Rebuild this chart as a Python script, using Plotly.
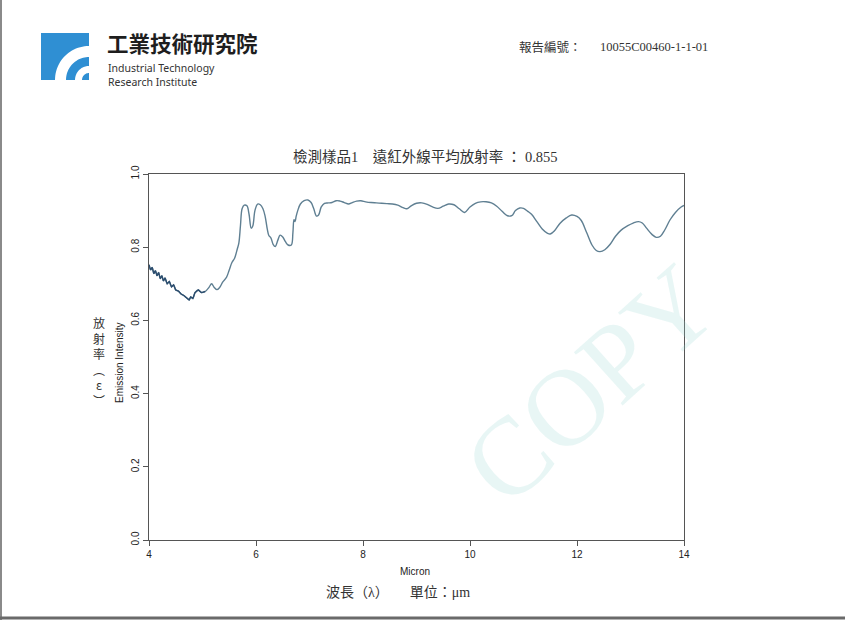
import math
import plotly.graph_objects as go

# ---- data ----
wavelength = [4.00, 4.03, 4.06, 4.09, 4.12, 4.15, 4.18, 4.21, 4.24, 4.27, 4.30, 4.34, 4.38, 4.42, 4.46,
              4.50, 4.55, 4.60, 4.65, 4.70, 4.75, 4.78, 4.82, 4.86, 4.92, 4.98, 5.05, 5.12, 5.17, 5.22,
              5.27, 5.32, 5.38, 5.45, 5.50, 5.55, 5.60, 5.65, 5.68, 5.71, 5.74, 5.78, 5.83, 5.87, 5.91,
              5.94, 5.98, 6.03, 6.08, 6.13, 6.17, 6.21, 6.24, 6.28, 6.32, 6.36, 6.41, 6.45, 6.50, 6.55,
              6.60, 6.66, 6.69, 6.71, 6.73, 6.75, 6.78, 6.83, 6.90, 6.97, 7.03, 7.08, 7.13, 7.17, 7.22,
              7.28, 7.35, 7.42, 7.50, 7.57, 7.65, 7.73, 7.80, 7.88, 7.96, 8.05, 8.15, 8.25, 8.35, 8.45,
              8.55, 8.65, 8.75, 8.82, 8.90, 9.00, 9.10, 9.20, 9.30, 9.40, 9.50, 9.60, 9.70, 9.80, 9.90,
              10.00, 10.10, 10.20, 10.30, 10.40, 10.50, 10.60, 10.70, 10.78, 10.85, 10.93, 11.00, 11.08,
              11.15, 11.25, 11.35, 11.45, 11.50, 11.58, 11.68, 11.80, 11.90, 12.00, 12.08, 12.18, 12.28,
              12.36, 12.43, 12.52, 12.62, 12.72, 12.82, 12.95, 13.05, 13.15, 13.22, 13.30, 13.40, 13.48,
              13.56, 13.64, 13.74, 13.84, 13.94, 14.00]
emission = [0.752, 0.738, 0.745, 0.728, 0.736, 0.722, 0.731, 0.714, 0.722, 0.708, 0.716, 0.700, 0.706, 0.692, 0.697,
            0.683, 0.680, 0.672, 0.668, 0.662, 0.656, 0.664, 0.660, 0.676, 0.683, 0.676, 0.679, 0.690, 0.700, 0.690,
            0.684, 0.690, 0.705, 0.718, 0.738, 0.758, 0.770, 0.795, 0.812, 0.860, 0.905, 0.915, 0.913, 0.890, 0.852,
            0.858, 0.900, 0.918, 0.916, 0.905, 0.885, 0.850, 0.832, 0.825, 0.808, 0.802, 0.820, 0.833, 0.828, 0.815,
            0.806, 0.806, 0.840, 0.875, 0.870, 0.884, 0.900, 0.918, 0.927, 0.929, 0.922, 0.905, 0.885, 0.888, 0.910,
            0.920, 0.921, 0.922, 0.927, 0.926, 0.922, 0.918, 0.922, 0.926, 0.927, 0.924, 0.922, 0.921, 0.920, 0.919,
            0.918, 0.915, 0.908, 0.905, 0.913, 0.920, 0.921, 0.917, 0.910, 0.906, 0.912, 0.918, 0.916, 0.905, 0.895,
            0.910, 0.920, 0.924, 0.924, 0.921, 0.912, 0.898, 0.886, 0.886, 0.900, 0.907, 0.906, 0.898,
            0.890, 0.870, 0.850, 0.838, 0.836, 0.845, 0.865, 0.880, 0.888, 0.884, 0.873, 0.840, 0.806,
            0.791, 0.788, 0.793, 0.808, 0.830, 0.846, 0.859, 0.866, 0.870, 0.866, 0.852, 0.835, 0.827,
            0.830, 0.847, 0.875, 0.895, 0.909, 0.914]
noisy_points = 27  # the dark, noisy start of the scan (4.0 - 5.05 micron)

x_ticks = [4, 6, 8, 10, 12, 14]
y_ticks = [0.0, 0.2, 0.4, 0.6, 0.8, 1.0]
y_tick_labels = ["0.0", "0.2", "0.4", "0.6", "0.8", "1.0"]

title_text = "檢測樣品1　遠紅外線平均放射率 ： 0.855"
report_label = "報告編號："
report_no = "10055C00460-1-1-01"

# ---- page geometry (pixels) ----
W, H = 845, 620
L, R, T, B = 149, 684, 174, 540
PW, PH = R - L, B - T


def px(xp):
    return (xp - L) / PW


def py(yp):
    return (B - yp) / PH


SERIF = "Liberation Serif, Noto Sans CJK TC, serif"
CJK = "Noto Sans CJK TC, Noto Sans CJK SC, sans-serif"
SANS = "Liberation Sans, Arial, sans-serif"

fig = go.Figure()
fig.add_trace(go.Scatter(x=wavelength, y=emission, mode="lines",
                         line=dict(color="#5f7f92", width=1.4), line_shape="spline",
                         hoverinfo="x+y", showlegend=False))
fig.add_trace(go.Scatter(x=wavelength[:noisy_points], y=emission[:noisy_points], mode="lines",
                         line=dict(color="#2c4d6e", width=1.4),
                         hoverinfo="x+y", showlegend=False))

ann = []


def text(xp, yp, s, size, font=SERIF, color="#222", xanchor="center", yanchor="middle", angle=0, **kw):
    ann.append(dict(x=px(xp), y=py(yp), xref="paper", yref="paper", text=s, showarrow=False,
                    font=dict(size=size, family=font, color=color), xanchor=xanchor,
                    yanchor=yanchor, textangle=angle, **kw))


# watermark
text(590, 385, "COPY", 110, font="Liberation Serif, serif", color="rgba(150,215,210,0.22)", angle=-42)

# header
text(106, 59, "<b>工業技術研究院</b>", 21.5, font=CJK, color="#1e1e1e", xanchor="left", yanchor="bottom",
     borderpad=0)
text(107, 60, "Industrial Technology<br>Research Institute", 10.5, font="Noto Sans, sans-serif",
     color="#333", xanchor="left", yanchor="top", align="left", borderpad=0)
text(517, 47, report_label, 12.5, font=CJK, color="#333", xanchor="left")
text(598, 47, report_no, 12.5, font=SERIF, color="#333", xanchor="left")

# title
text(425, 157, title_text, 14.5, font=SERIF, color="#333")

# y-axis labels
text(99, 361, "放<br>射<br>率<br>︵<br>ε<br>︶", 12, font=CJK, color="#333")
text(119, 363, "Emission Intensity", 10, font=SANS, color="#222", angle=-90)

# x-axis labels
text(415, 571, "Micron", 10, font=SANS, color="#222")
text(398, 592, "波長（λ）　　單位：μm", 14, font=SERIF, color="#333")

shapes = []
# logo square
shapes.append(dict(type="rect", xref="paper", yref="paper", x0=px(41), x1=px(89), y0=py(80), y1=py(33),
                   fillcolor="#2f8fd3", line=dict(width=0), layer="above"))


def annulus(cx, cy, r1, r2, n=24):
    pts = []
    for k in range(n + 1):
        t = math.pi / 2 * k / n
        pts.append((cx - r2 * math.cos(t), cy - r2 * math.sin(t)))
    for k in range(n, -1, -1):
        t = math.pi / 2 * k / n
        pts.append((cx - r1 * math.cos(t), cy - r1 * math.sin(t)))
    d = "M " + " L ".join(f"{px(a):.5f},{py(b):.5f}" for a, b in pts) + " Z"
    return d


shapes.append(dict(type="path", xref="paper", yref="paper", path=annulus(89, 80, 23, 34),
                   fillcolor="white", line=dict(width=0), layer="above"))
shapes.append(dict(type="path", xref="paper", yref="paper", path=annulus(89, 80, 7, 14),
                   fillcolor="white", line=dict(width=0), layer="above"))

# scan border edges
shapes.append(dict(type="line", xref="paper", yref="paper", x0=px(1), x1=px(1), y0=py(0), y1=py(620),
                   line=dict(color="#8a8a8a", width=2)))
shapes.append(dict(type="line", xref="paper", yref="paper", x0=px(0), x1=px(845), y0=py(618), y1=py(618),
                   line=dict(color="#6a6a6a", width=3)))

fig.update_layout(
    width=W, height=H,
    margin=dict(l=L, r=W - R, t=T, b=H - B, pad=0),
    paper_bgcolor="white", plot_bgcolor="rgba(0,0,0,0)",
    annotations=ann, shapes=shapes,
    xaxis=dict(range=[4, 14], tickvals=x_ticks, ticktext=[str(v) for v in x_ticks],
               showgrid=False, zeroline=False, showline=True, linecolor="#555", linewidth=1,
               mirror=True, ticks="outside", ticklen=5, tickcolor="#555",
               tickfont=dict(family=SANS, size=10, color="#222")),
    yaxis=dict(range=[0, 1.0], tickvals=y_ticks, ticktext=y_tick_labels,
               showgrid=False, zeroline=False, showline=True, linecolor="#555", linewidth=1,
               mirror=True, ticks="outside", ticklen=5, tickcolor="#555", tickangle=-90,
               tickfont=dict(family=SANS, size=10, color="#222")),
)

fig.write_html("out.html", config={"displayModeBar": False},
               post_script="document.body.style.margin='0';document.body.style.overflow='hidden';")
